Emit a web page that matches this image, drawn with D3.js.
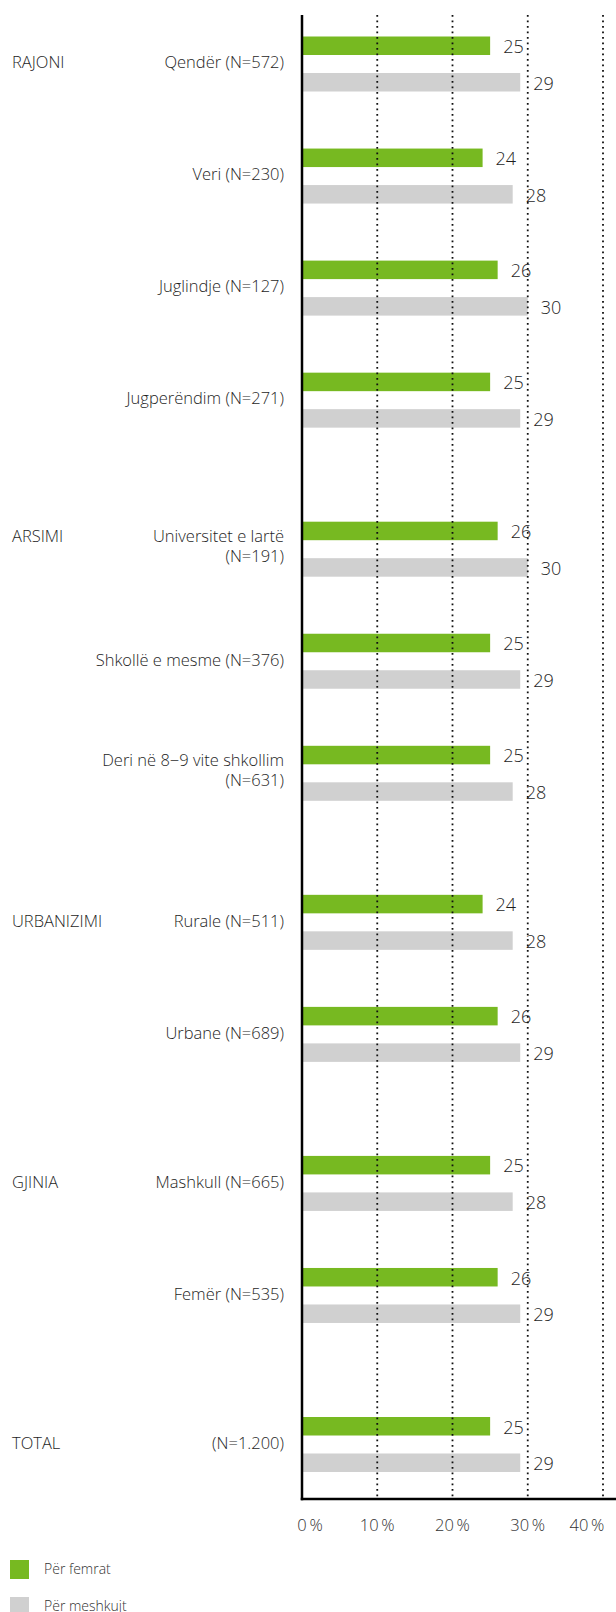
<!DOCTYPE html>
<html>
<head>
<meta charset="utf-8">
<script src="https://cdn.jsdelivr.net/npm/d3@7"></script>
<style>
  html, body { margin: 0; padding: 0; background: #fff; }
  svg { display: block; font-family: "Open Sans", "Noto Sans", sans-serif; font-weight: 300; }
</style>
</head>
<body>
<div id="chart"></div>
<script>
// datos
const sections = ["RAJONI", "ARSIMI", "URBANIZIMI", "GJINIA", "TOTAL"];
const categoryLabels = [
    ["Qendër (N=572)"],
    ["Veri (N=230)"],
    ["Juglindje (N=127)"],
    ["Jugperëndim (N=271)"],
    ["Universitet e lartë", "(N=191)"],
    ["Shkollë e mesme (N=376)"],
    ["Deri në 8−9 vite shkollim", "(N=631)"],
    ["Rurale (N=511)"],
    ["Urbane (N=689)"],
    ["Mashkull (N=665)"],
    ["Femër (N=535)"],
    ["(N=1.200)"]
];
const categorySection = [0, 0, 0, 0, 1, 1, 1, 2, 2, 3, 3, 4];
const femrat = [25, 24, 26, 25, 26, 25, 25, 24, 26, 25, 26, 25];
const meshkujt = [29, 28, 30, 29, 30, 29, 28, 28, 29, 28, 29, 29];
const series = ["Për femrat", "Për meshkujt"];
const colors = ["#77b921", "#d0d0d0"];
const xTicks = [0, 10, 20, 30, 40];

const W = 616, H = 1612;
const axisTop = 15, axisBottom = 1499;
const sectionGap = 0.33;   // espacio extra entre secciones (en filas)
const textColor = "#1e1e1e";

const svg = d3.select("#chart").append("svg")
    .attr("width", W)
    .attr("height", H);

const x = d3.scaleLinear().domain([0, 40]).range([302, 603]);

// posicion de cada grupo: indice + salto por seccion
const slot = (i) => i + categorySection[i] * sectionGap;
const y = d3.scaleLinear()
    .domain([0, slot(categoryLabels.length - 1)])
    .range([36.5, 1417]);

const inner = d3.scaleBand().domain([0, 1]).range([0, 55]).paddingInner(0.493);
const mid = (inner(0) + inner(1) + inner.bandwidth()) / 2;

const rows = categoryLabels.map((lines, i) => ({
    i, lines, section: categorySection[i], values: [femrat[i], meshkujt[i]]
}));

// barras
const groups = svg.selectAll(".grupo")
    .data(rows)
    .join("g")
    .attr("class", "grupo")
    .attr("transform", d => `translate(0,${y(slot(d.i))})`);

groups.selectAll("rect")
    .data(d => d.values.map((v, s) => ({ v, s })))
    .join("rect")
    .attr("x", x(0))
    .attr("y", d => inner(d.s))
    .attr("width", d => x(d.v) - x(0))
    .attr("height", inner.bandwidth())
    .attr("fill", d => colors[d.s]);

groups.selectAll(".valor")
    .data(d => d.values.map((v, s) => ({ v, s })))
    .join("text")
    .attr("class", "valor")
    .attr("x", d => x(d.v) + 13)
    .attr("y", d => inner(d.s) + inner.bandwidth() / 2 + 1)
    .attr("dy", "0.35em")
    .style("font-size", "18px")
    .style("fill", textColor)
    .text(d => d.v);

// etiquetas de categoria
groups.each(function (d) {
    const g = d3.select(this);
    const offs = d.lines.length === 1 ? [-1.5] : [-13, 7];
    g.selectAll(".cat")
        .data(d.lines)
        .join("text")
        .attr("class", "cat")
        .attr("x", 284)
        .attr("y", (t, k) => mid + offs[k])
        .attr("dy", "0.35em")
        .attr("text-anchor", "end")
        .style("font-size", "16.5px")
        .style("fill", textColor)
        .text(t => t);
});

// etiquetas de seccion (en el primer grupo de cada seccion)
const firstOf = sections.map((s, k) => categorySection.indexOf(k));
svg.selectAll(".seccion")
    .data(sections)
    .join("text")
    .attr("class", "seccion")
    .attr("x", 12)
    .attr("y", (s, k) => {
        const i = firstOf[k];
        const off = categoryLabels[i].length === 1 ? -1.5 : -13;
        return y(slot(i)) + mid + off;
    })
    .attr("dy", "0.35em")
    .style("font-size", "16.5px")
    .style("fill", textColor)
    .text(s => s);

// lineas de cuadricula punteadas
svg.selectAll(".grid")
    .data(xTicks.slice(1))
    .join("line")
    .attr("class", "grid")
    .attr("x1", d => x(d))
    .attr("x2", d => x(d))
    .attr("y1", axisTop)
    .attr("y2", axisBottom)
    .attr("stroke", "#111")
    .attr("stroke-width", 1.8)
    .attr("stroke-dasharray", "1.8,3.7");

// ejes
svg.append("line")
    .attr("x1", x(0)).attr("x2", x(0))
    .attr("y1", axisTop).attr("y2", axisBottom + 1.25)
    .attr("stroke", "#000")
    .attr("stroke-width", 2.5);
svg.append("line")
    .attr("x1", x(0) - 1.25).attr("x2", W)
    .attr("y1", axisBottom).attr("y2", axisBottom)
    .attr("stroke", "#000")
    .attr("stroke-width", 2.5);

svg.selectAll(".tick-label")
    .data(xTicks)
    .join("text")
    .attr("class", "tick-label")
    .attr("x", (d, k) => k === 0 ? x(d) + 8 : k === xTicks.length - 1 ? x(d) - 16 : x(d))
    .attr("y", 1525)
    .attr("dy", "0.35em")
    .attr("text-anchor", "middle")
    .style("font-size", "16.5px")
    .style("fill", "#333")
    .text(d => d + "\u2009%");

// leyenda
const legend = svg.selectAll(".leyenda")
    .data(series)
    .join("g")
    .attr("class", "leyenda")
    .attr("transform", (d, k) => `translate(10,${1560 + k * 37})`);

legend.append("rect")
    .attr("width", 19)
    .attr("height", 19)
    .attr("fill", (d, k) => colors[k]);

legend.append("text")
    .attr("x", 34)
    .attr("y", 9.5)
    .attr("dy", "0.35em")
    .style("font-size", "14px")
    .style("fill", "#333")
    .text(d => d);
</script>
</body>
</html>
